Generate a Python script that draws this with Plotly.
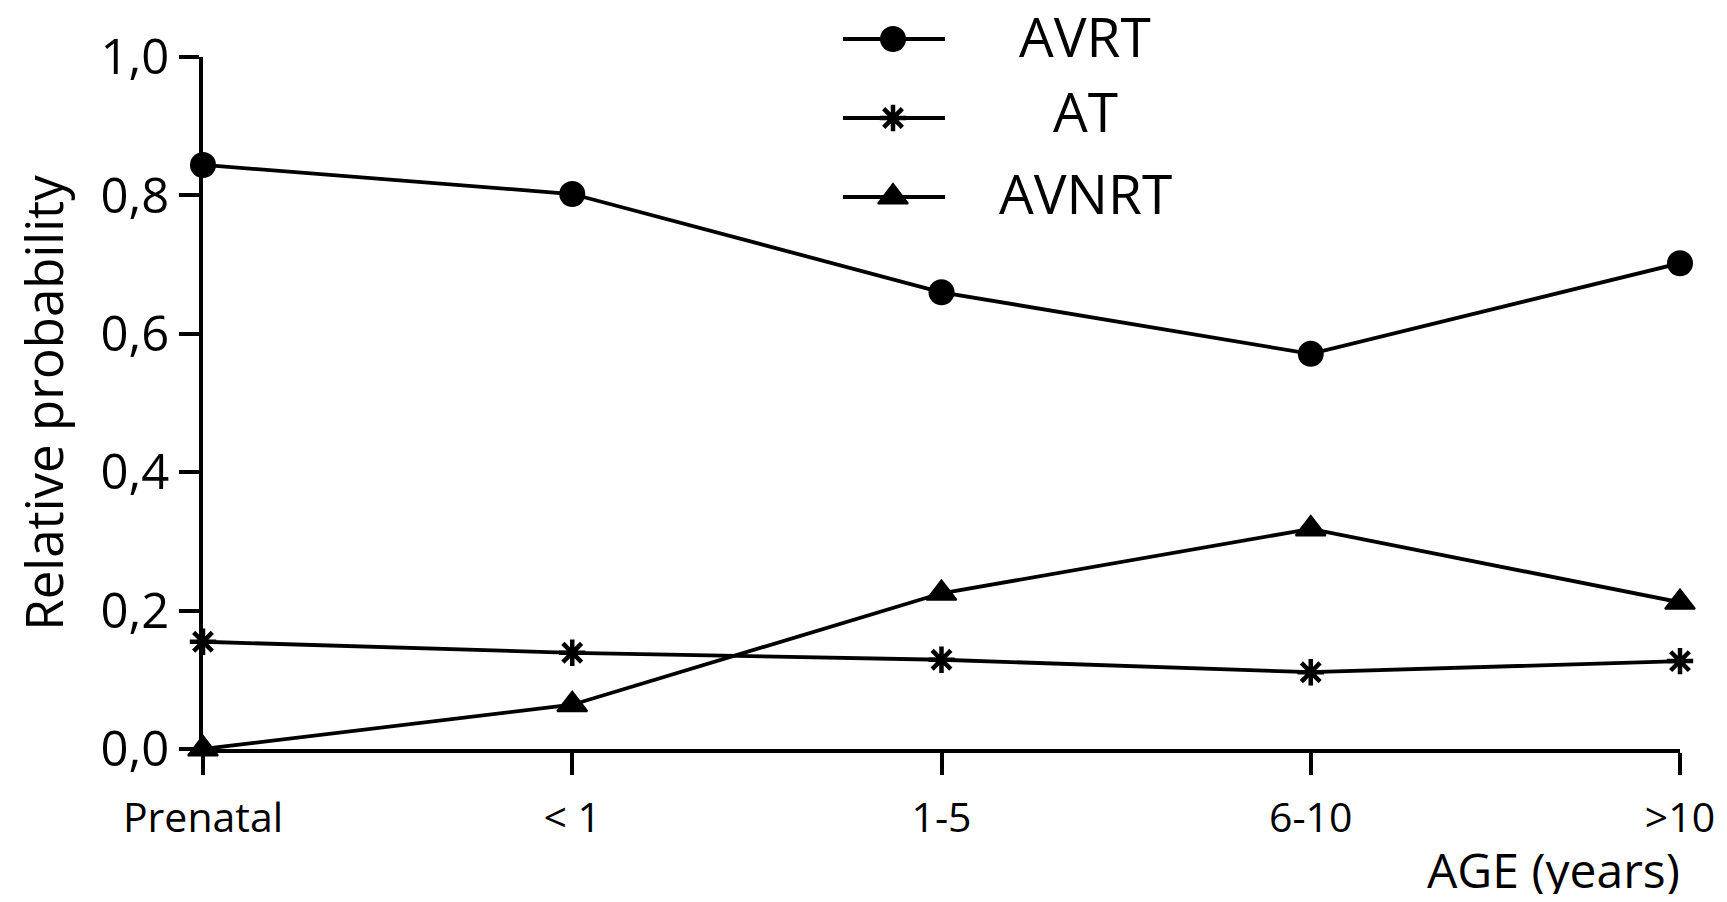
import plotly.graph_objects as go

categories = ["Prenatal", "< 1", "1-5", "6-10", ">10"]
avrt = [0.844, 0.802, 0.660, 0.571, 0.702]
at = [0.155, 0.139, 0.129, 0.111, 0.127]
avnrt = [0.0, 0.064, 0.225, 0.318, 0.212]
y_ticks = [0.0, 0.2, 0.4, 0.6, 0.8, 1.0]
y_ticktext = ["0,0", "0,2", "0,4", "0,6", "0,8", "1,0"]
series_names = ["AVRT", "AT", "AVNRT"]

FONT = "Open Sans, Noto Sans, DejaVu Sans, sans-serif"
# figure fits inside the page's 8px body margin
W, H = 1711, 886
LW = 3.8

x_idx = list(range(len(categories)))

styles = [
    dict(symbol="circle", size=26, color="black"),
    dict(symbol="asterisk-open", size=22, color="black", line=dict(color="black", width=4.5)),
    dict(symbol="triangle-up", size=26, color="black", line=dict(color="black", width=2)),
]
values = [avrt, at, avnrt]

fig = go.Figure()
for name, vals, mk in zip(series_names, values, styles):
    fig.add_trace(go.Scatter(
        x=x_idx, y=vals, name=name, mode="lines+markers",
        line=dict(color="black", width=LW),
        marker=mk, cliponaxis=False, showlegend=False,
    ))

# custom legend drawn in a hidden pixel-space overlay subplot
leg_line_y = [31, 110, 189]
leg_text_y = [27, 102, 184]
leg_x0, leg_xm, leg_x1, leg_text_x = 835, 885, 937, 1077
for name, mk, ry in zip(series_names, styles, leg_line_y):
    fig.add_trace(go.Scatter(
        x=[leg_x0, leg_x1], y=[ry, ry], mode="lines",
        line=dict(color="black", width=LW),
        xaxis="x2", yaxis="y2", showlegend=False, hoverinfo="skip", cliponaxis=False,
    ))
    fig.add_trace(go.Scatter(
        x=[leg_xm], y=[ry], mode="markers", marker=mk,
        xaxis="x2", yaxis="y2", showlegend=False, hoverinfo="skip", cliponaxis=False,
    ))

annotations = [dict(
    text="AGE (years)", xref="paper", yref="paper",
    x=1674 / W, y=1 - 861 / H, xanchor="right", yanchor="middle",
    showarrow=False, font=dict(size=48, family=FONT, color="black"),
)]
for name, ty in zip(series_names, leg_text_y):
    annotations.append(dict(
        text=name, xref="x2", yref="y2", x=leg_text_x, y=ty,
        xanchor="center", yanchor="middle", showarrow=False,
        font=dict(size=55, family=FONT, color="black"),
    ))

fig.update_layout(
    width=W, height=H, autosize=False,
    margin=dict(l=0, r=0, t=0, b=0, autoexpand=False),
    paper_bgcolor="white", plot_bgcolor="rgba(0,0,0,0)",
    font=dict(family=FONT, color="black"),
    showlegend=False,
    xaxis=dict(
        domain=[195 / W, 1672 / W], automargin=False,
        range=[0, 4], tickmode="array", tickvals=x_idx, ticktext=categories,
        showgrid=False, zeroline=False,
        showline=True, linecolor="black", linewidth=4,
        ticks="outside", ticklen=22, tickwidth=4, tickcolor="black",
        tickfont=dict(size=41, family=FONT, color="black"),
        ticklabelstandoff=8,
    ),
    yaxis=dict(
        domain=[1 - 741 / H, 1 - 49 / H], automargin=False,
        range=[0, 1], tickmode="array", tickvals=y_ticks, ticktext=y_ticktext,
        showgrid=False, zeroline=False,
        showline=True, linecolor="black", linewidth=4,
        ticks="outside", ticklen=20, tickwidth=4, tickcolor="black",
        tickfont=dict(size=49, family=FONT, color="black"),
        title=dict(text="Relative probability", font=dict(size=51, family=FONT, color="black"),
                   standoff=38),
    ),
    xaxis2=dict(domain=[0, 1], range=[0, W], visible=False, anchor="y2", fixedrange=True),
    yaxis2=dict(domain=[0, 1], range=[H, 0], visible=False, anchor="x2", fixedrange=True),
    annotations=annotations,
)

fig.write_html("out.html")
